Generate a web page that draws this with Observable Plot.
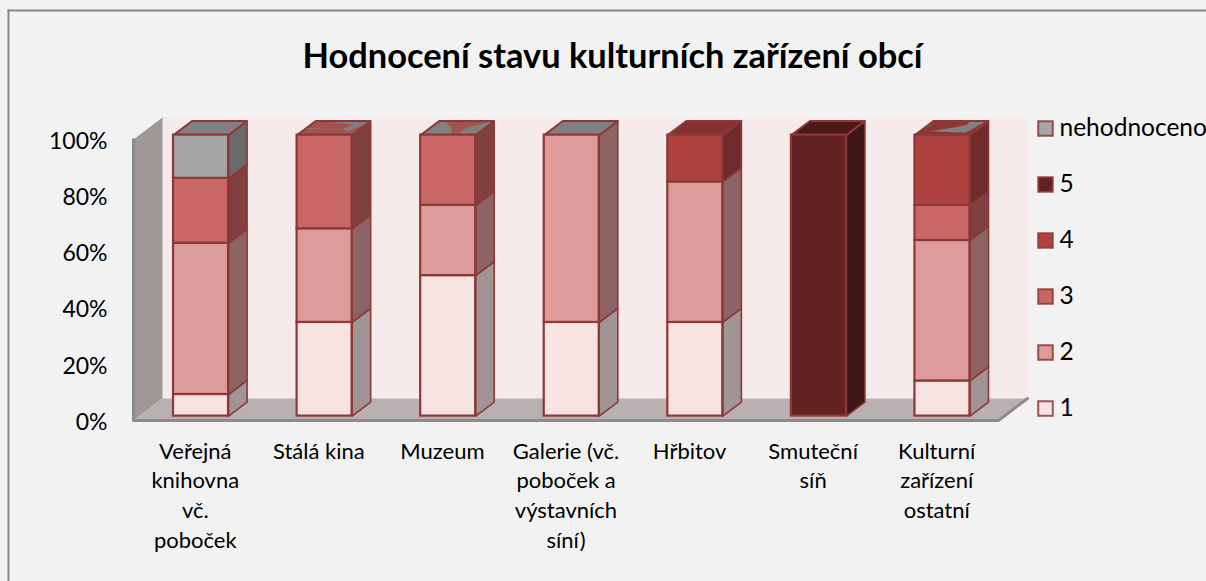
<!DOCTYPE html>
<html><head><meta charset="utf-8">
<style>html,body{margin:0;padding:0;background:#fff;overflow:hidden}svg{display:block;font-family:Lato,sans-serif}</style>
<script src="https://cdn.jsdelivr.net/npm/d3@7"></script>
<script src="https://cdn.jsdelivr.net/npm/@observablehq/plot@0.6"></script>
</head><body><div id="chart"></div>
<script>
const title = "Hodnocení stavu kulturních zařízení obcí";
const categories = ["Veřejná\nknihovna\nvč.\npoboček","Stálá kina","Muzeum","Galerie (vč.\npoboček a\nvýstavních\nsíní)","Hřbitov","Smuteční\nsíň","Kulturní\nzařízení\nostatní"];
const grade1 = [7.69,33.33,50,33.33,33.33,0,12.5];
const grade2 = [53.85,33.33,25,66.67,50,0,50];
const grade3 = [23.08,33.34,25,0,0,0,12.5];
const grade4 = [0,0,0,0,16.67,0,25];
const grade5 = [0,0,0,0,0,100,0];
const unrated = [15.38,0,0,0,0,0,0];
const seriesNames = ["1","2","3","4","5","nehodnoceno"];
const seriesValues = [grade1,grade2,grade3,grade4,grade5,unrated];
const frontColors = ["#f8e3e3","#dd9c9b","#c96666","#ae4241","#632222","#a6a6a6"];
const sideColors = ["#a09594","#8d6363","#7f403f","#6f2a2a","#3f1616","#6a6a6a"];
const topColors = ["#808080","#a15352","#808080","#808080","#843231","#4b1a18","#8f3535"];
const yTicks = [0,20,40,60,80,100];
const edge = "#8c3836";
// z-fighting patches on the bar tops: [bar, colour, [[along width, along depth]...]]
const topPatches = [
  [1,"#808080",[[.226,.96],[1,.92],[.835,.25],[.68,.44],[.79,.73]]],
  [1,"#808080",[[.02,.48],[.35,.5],[.07,.42]]],
  [2,"#a15352",[[.116,.96],[.97,.96],[.66,.54],[.65,.25],[.68,.04],[.55,.04],[.38,.54]]],
  [6,"#808080",[[.665,.94],[.96,.98],[.87,.16],[.18,.27],[.56,.58],[.70,.73]]],
  [6,"#808080",[[.04,.48],[.07,.96],[.02,.6]]]
];
// oblique projection, in scale units
const depthX = 29/123.57, depthY = 22/2.81;
const barLeft = .277, barWidth = .445, d0 = .2, d1 = .84;
const P = (x,y,d) => ({x: x + d*depthX, y: y + d*depthY});
const poly = (pts, fill, stroke, strokeWidth=1.5) => Plot.line(pts,{x:"x",y:"y",fill,stroke:stroke||"none",strokeWidth,curve:"linear-closed",strokeLinejoin:"round"});

const fronts=[], marks=[];
marks.push(Plot.frame({anchor:"left",stroke:"#868686",strokeWidth:2}));
marks.push(Plot.frame({anchor:"top",stroke:"#868686",strokeWidth:2}));
// walls and floor
marks.push(poly([P(0,0,1),P(7,0,1),P(7,100,1),P(0,100,1)],"#f6eaea"));
marks.push(poly([P(0,0,0),P(0,100,0),P(0,100,1),P(0,0,1)],"#9e9897"));
marks.push(poly([P(0,0,0),P(7,0,0),P(7,0,1),P(0,0,1)],"#b9b1b1"));
marks.push(Plot.line([P(0,100,0),P(0,0,0),P(7,0,0),P(7,0,1)],{x:"x",y:"y",stroke:"#8c8c8c",strokeWidth:3}));
// bars
categories.forEach((c,i)=>{
  const xa=i+barLeft, xb=xa+barWidth; let base=0;
  seriesValues.forEach((vals,s)=>{
    const v=vals[i]; if(!v) return;
    const top=base+v;
    marks.push(poly([P(xb,base,d0),P(xb,top,d0),P(xb,top,d1),P(xb,base,d1)],sideColors[s],edge,1.6));
    fronts.push({x1:xa+d0*depthX,x2:xb+d0*depthX,y1:base+d0*depthY,y2:top+d0*depthY,fill:frontColors[s]});
    base=top;
  });
  const A=P(xa,100,d0),B=P(xb,100,d0),C=P(xb,100,d1),D=P(xa,100,d1);
  marks.push(poly([A,B,C,D],topColors[i]));
  topPatches.filter(p=>p[0]===i).forEach(p=>{
    const pts=p[2].map(([u,v])=>P(xa+u*barWidth,100,d0+v*(d1-d0)));
    marks.push(poly(pts,p[1]));
  });
  marks.push(poly([A,B,C,D],"none",edge,2));
});
marks.push(Plot.rect(fronts,{x1:"x1",x2:"x2",y1:"y1",y2:"y2",fill:"fill",stroke:edge,strokeWidth:2.2}));
// category labels
marks.push(Plot.text(categories,{x:(d,i)=>i+.5,y:()=>0,text:d=>d,lineAnchor:"top",dy:17,fontSize:22,lineHeight:1.35,fill:"#000"}));
// axis
marks.push(Plot.axisY({ticks:yTicks,tickSize:0,tickFormat:d=>d+"%",anchor:"left",dx:108,dy:2,fontSize:23,fill:"#000",label:null}));
// title
marks.push(Plot.text([title],{frameAnchor:"top",dx:5,dy:33,lineAnchor:"top",fontSize:34.4,fontWeight:700,fill:"#000"}));
// legend
seriesNames.forEach((n,i)=>{
  const dy=398-i*56;
  marks.push(Plot.dot([n],{frameAnchor:"top-left",dx:1037,dy,symbol:"square",r:8.2,fill:frontColors[i],stroke:edge,strokeWidth:2,strokeOpacity:.85}));
  marks.push(Plot.text([n],{frameAnchor:"top-left",dx:1051,dy,lineAnchor:"middle",textAnchor:"start",fontSize:24.5,fill:"#000"}));
});
const chart=Plot.plot({width:1206,height:581,marginLeft:8,marginTop:10,marginRight:0,marginBottom:0,
  x:{domain:[0,7],range:[133,998],axis:null},
  y:{domain:[0,100],range:[420,139],axis:null},
  color:{type:"identity"},
  style:{background:"#f2f2f2",fontFamily:"Lato,sans-serif",overflow:"hidden"},
  marks});
document.getElementById("chart").append(chart);
</script></body></html>
